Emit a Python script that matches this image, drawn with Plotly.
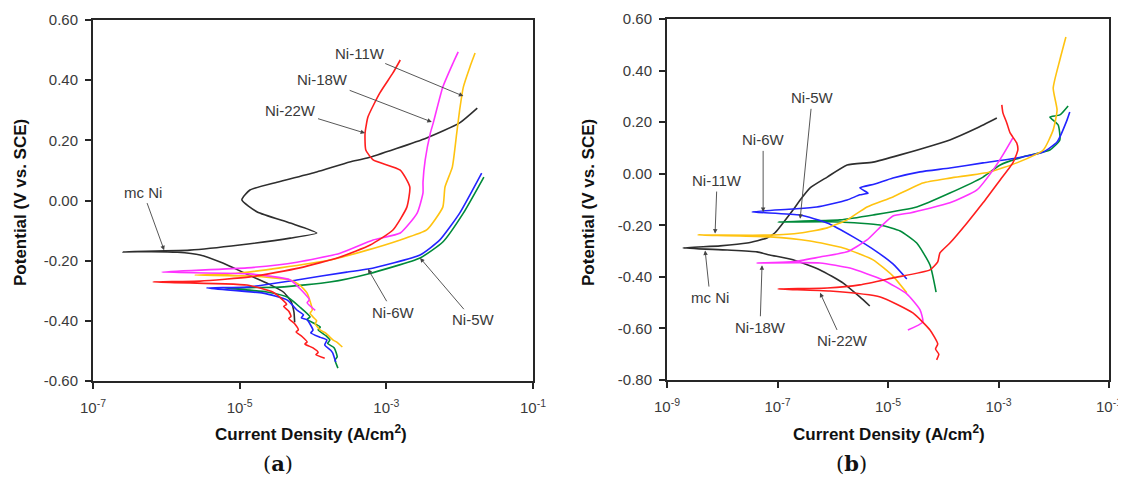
import numpy as np
import plotly.graph_objects as go

# ---------------- Panel (a) data : log10 current density (A/cm2), potential (V vs SCE)
# each curve: cathodic branch (from Ecorr outward) and anodic branch (from Ecorr outward)
A_MCNI_CATH_LOGI = [-6.59, -6.2, -5.85, -5.54, -5.23, -4.90, -4.60, -4.40, -4.30, -4.26, -4.25]
A_MCNI_CATH_E = [-0.171, -0.170, -0.172, -0.181, -0.208, -0.245, -0.278, -0.305, -0.335, -0.37, -0.405]
A_MCNI_AN_LOGI = [-6.59, -5.68, -5.0, -4.31, -3.95, -4.31, -4.76, -4.97, -4.86, -4.49, -3.95, -3.50, -3.26, -2.45, -2.0, -1.76]
A_MCNI_AN_E = [-0.171, -0.165, -0.148, -0.125, -0.108, -0.075, -0.038, 0.002, 0.035, 0.061, 0.095, 0.128, 0.141, 0.208, 0.258, 0.307]

A_22W_CATH_LOGI = [-6.18, -4.90, -4.55, -4.41, -4.36, -4.40, -4.33, -4.30, -4.33, -4.25, -4.20, -4.23, -4.15, -4.08, -4.11, -4.0, -3.93, -3.96, -3.84]
A_22W_CATH_E = [-0.271, -0.281, -0.304, -0.331, -0.345, -0.352, -0.368, -0.385, -0.392, -0.410, -0.430, -0.437, -0.452, -0.470, -0.477, -0.490, -0.505, -0.512, -0.524]
A_22W_AN_LOGI = [-6.18, -5.54, -4.86, -4.18, -3.63, -3.22, -2.91, -2.72, -2.68, -2.81, -3.18, -3.28, -3.29, -3.25, -3.09, -2.91, -2.81]
A_22W_AN_E = [-0.271, -0.268, -0.254, -0.224, -0.188, -0.148, -0.098, -0.022, 0.045, 0.101, 0.135, 0.168, 0.224, 0.278, 0.357, 0.424, 0.467]

A_18W_CATH_LOGI = [-6.06, -4.86, -4.31, -4.15, -4.05, -4.08, -3.97]
A_18W_CATH_E = [-0.238, -0.244, -0.264, -0.300, -0.330, -0.340, -0.365]
A_18W_AN_LOGI = [-6.06, -4.90, -4.22, -3.63, -3.18, -2.81, -2.58, -2.50, -2.50, -2.47, -2.40, -2.36, -2.23, -2.09, -2.02]
A_18W_AN_E = [-0.238, -0.224, -0.205, -0.175, -0.131, -0.108, -0.042, 0.025, 0.061, 0.135, 0.224, 0.258, 0.377, 0.457, 0.494]

A_11W_CATH_LOGI = [-5.61, -4.86, -4.31, -4.18, -4.08, -4.01, -4.04, -4.0, -3.95, -3.97, -3.90, -3.83, -3.77, -3.72, -3.68, -3.60]
A_11W_CATH_E = [-0.248, -0.251, -0.264, -0.281, -0.308, -0.364, -0.375, -0.387, -0.400, -0.410, -0.431, -0.440, -0.454, -0.465, -0.470, -0.487]
A_11W_AN_LOGI = [-5.61, -5.13, -4.45, -3.77, -3.26, -2.81, -2.45, -2.23, -2.20, -2.10, -2.04, -2.0, -1.95, -1.86, -1.79]
A_11W_AN_E = [-0.248, -0.244, -0.224, -0.198, -0.165, -0.131, -0.098, -0.022, 0.045, 0.111, 0.224, 0.301, 0.377, 0.444, 0.490]

A_6W_CATH_LOGI = [-5.45, -4.68, -4.35, -4.22, -4.13, -4.16, -4.08, -4.0, -4.03, -3.90, -3.81, -3.84, -3.75, -3.73, -3.69]
A_6W_CATH_E = [-0.291, -0.308, -0.331, -0.364, -0.380, -0.390, -0.397, -0.431, -0.440, -0.455, -0.464, -0.480, -0.500, -0.507, -0.537]
A_6W_AN_LOGI = [-5.45, -4.90, -4.22, -3.54, -3.25, -2.54, -2.27, -2.0, -1.70]
A_6W_AN_E = [-0.291, -0.288, -0.264, -0.238, -0.228, -0.181, -0.131, -0.042, 0.091]

A_5W_CATH_LOGI = [-5.2, -4.63, -4.35, -4.18, -4.04, -4.08, -3.97, -3.90, -3.93, -3.82, -3.77, -3.80, -3.71, -3.67, -3.70, -3.66]
A_5W_CATH_E = [-0.291, -0.304, -0.321, -0.354, -0.387, -0.395, -0.410, -0.421, -0.430, -0.450, -0.464, -0.475, -0.490, -0.520, -0.530, -0.557]
A_5W_AN_LOGI = [-5.2, -4.45, -3.77, -3.25, -2.54, -2.23, -1.95, -1.67]
A_5W_AN_E = [-0.291, -0.288, -0.271, -0.244, -0.191, -0.138, -0.042, 0.078]

# ---------------- Panel (b) data
B_MCNI_CATH_LOGI = [-8.71, -7.91, -7.37, -7.14, -6.72, -6.23, -5.81, -5.51, -5.33]
B_MCNI_CATH_E = [-0.288, -0.296, -0.303, -0.315, -0.334, -0.373, -0.424, -0.478, -0.513]
B_MCNI_AN_LOGI = [-8.71, -8.04, -7.55, -7.19, -7.05, -6.90, -6.72, -6.59, -6.41, -6.10, -5.74, -5.27, -4.78, -3.88, -3.39, -3.03]
B_MCNI_AN_E = [-0.288, -0.280, -0.269, -0.249, -0.230, -0.191, -0.141, -0.102, -0.055, -0.013, 0.034, 0.045, 0.073, 0.131, 0.177, 0.216]

B_11W_CATH_LOGI = [-8.44, -7.14, -6.41, -5.81, -5.27, -4.91, -4.66]
B_11W_CATH_E = [-0.238, -0.245, -0.261, -0.288, -0.334, -0.397, -0.462]
B_11W_AN_LOGI = [-8.44, -7.14, -6.59, -6.10, -5.74, -5.38, -4.91, -4.37, -3.88, -3.15, -2.67, -2.19, -2.01, -1.94, -2.01, -1.89, -1.78]
B_11W_AN_E = [-0.238, -0.238, -0.230, -0.210, -0.179, -0.129, -0.090, -0.036, -0.017, 0.007, 0.042, 0.092, 0.170, 0.247, 0.332, 0.441, 0.530]

B_6W_CATH_LOGI = [-7.46, -6.59, -6.10, -5.63, -5.20, -4.91, -4.66]
B_6W_CATH_E = [-0.148, -0.160, -0.191, -0.245, -0.303, -0.350, -0.408]
B_6W_AN_LOGI = [-7.46, -6.72, -6.29, -5.74, -5.51, -5.36, -5.51, -5.24, -4.91, -4.42, -3.88, -3.28, -2.67, -2.19, -1.94, -1.76, -1.71]
B_6W_AN_E = [-0.144, -0.137, -0.129, -0.102, -0.082, -0.075, -0.055, -0.040, -0.017, 0.007, 0.022, 0.042, 0.061, 0.084, 0.123, 0.208, 0.239]

B_5W_CATH_LOGI = [-6.99, -5.87, -5.14, -4.78, -4.48, -4.24, -4.13]
B_5W_CATH_E = [-0.187, -0.187, -0.199, -0.222, -0.269, -0.354, -0.459]
B_5W_AN_LOGI = [-6.99, -5.87, -5.27, -4.48, -3.88, -3.28, -2.97, -2.56, -2.07, -1.89, -1.92, -2.07, -1.89, -1.74]
B_5W_AN_E = [-0.187, -0.179, -0.160, -0.129, -0.075, -0.013, 0.034, 0.065, 0.092, 0.131, 0.189, 0.220, 0.228, 0.263]

B_18W_CATH_LOGI = [-7.37, -6.23, -5.69, -5.09, -4.66, -4.42, -4.37, -4.64]
B_18W_CATH_E = [-0.346, -0.346, -0.366, -0.412, -0.466, -0.528, -0.575, -0.606]
B_18W_AN_LOGI = [-7.37, -6.72, -6.23, -5.74, -5.38, -5.14, -4.91, -4.60, -3.88, -3.39, -3.10, -2.92, -2.74]
B_18W_AN_E = [-0.346, -0.342, -0.323, -0.303, -0.257, -0.207, -0.164, -0.152, -0.113, -0.063, 0.014, 0.073, 0.139]

B_22W_CATH_LOGI = [-6.99, -6.05, -5.14, -4.55, -4.24, -4.10, -4.14, -4.08, -4.12]
B_22W_CATH_E = [-0.447, -0.455, -0.478, -0.540, -0.606, -0.660, -0.680, -0.700, -0.722]
B_22W_AN_LOGI = [-6.99, -6.10, -5.51, -4.91, -4.24, -4.10, -4.06, -3.88, -3.57, -3.28, -2.97, -2.74, -2.65, -2.67, -2.79, -2.85, -2.92, -2.94]
B_22W_AN_E = [-0.447, -0.443, -0.431, -0.404, -0.373, -0.342, -0.307, -0.269, -0.191, -0.113, -0.024, 0.042, 0.092, 0.119, 0.158, 0.197, 0.236, 0.267]

X_TICKS_A = [-7, -5, -3, -1]
X_TICKS_B = [-9, -7, -5, -3, -1]
Y_TICKS_A = [-0.6, -0.4, -0.2, 0.0, 0.2, 0.4, 0.6]
Y_TICKS_B = [-0.8, -0.6, -0.4, -0.2, 0.0, 0.2, 0.4, 0.6]

COL = {
    "mc Ni": "#2e2e2e",
    "Ni-22W": "#ff1e1e",
    "Ni-18W": "#ff33ff",
    "Ni-11W": "#ffc310",
    "Ni-6W": "#2323ff",
    "Ni-5W": "#008a3a",
}


def curve(cl, ce, al, ae):
    lx = list(reversed(cl)) + list(al[1:])
    ly = list(reversed(ce)) + list(ae[1:])
    return 10 ** np.array(lx), np.array(ly)


fig = go.Figure()

panel_a = [
    ("mc Ni", A_MCNI_CATH_LOGI, A_MCNI_CATH_E, A_MCNI_AN_LOGI, A_MCNI_AN_E),
    ("Ni-5W", A_5W_CATH_LOGI, A_5W_CATH_E, A_5W_AN_LOGI, A_5W_AN_E),
    ("Ni-6W", A_6W_CATH_LOGI, A_6W_CATH_E, A_6W_AN_LOGI, A_6W_AN_E),
    ("Ni-11W", A_11W_CATH_LOGI, A_11W_CATH_E, A_11W_AN_LOGI, A_11W_AN_E),
    ("Ni-18W", A_18W_CATH_LOGI, A_18W_CATH_E, A_18W_AN_LOGI, A_18W_AN_E),
    ("Ni-22W", A_22W_CATH_LOGI, A_22W_CATH_E, A_22W_AN_LOGI, A_22W_AN_E),
]
panel_b = [
    ("mc Ni", B_MCNI_CATH_LOGI, B_MCNI_CATH_E, B_MCNI_AN_LOGI, B_MCNI_AN_E),
    ("Ni-5W", B_5W_CATH_LOGI, B_5W_CATH_E, B_5W_AN_LOGI, B_5W_AN_E),
    ("Ni-6W", B_6W_CATH_LOGI, B_6W_CATH_E, B_6W_AN_LOGI, B_6W_AN_E),
    ("Ni-11W", B_11W_CATH_LOGI, B_11W_CATH_E, B_11W_AN_LOGI, B_11W_AN_E),
    ("Ni-18W", B_18W_CATH_LOGI, B_18W_CATH_E, B_18W_AN_LOGI, B_18W_AN_E),
    ("Ni-22W", B_22W_CATH_LOGI, B_22W_CATH_E, B_22W_AN_LOGI, B_22W_AN_E),
]

for panel, xr, yr in ((panel_a, "x", "y"), (panel_b, "x2", "y2")):
    for name, cl, ce, al, ae in panel:
        xs, ys = curve(cl, ce, al, ae)
        fig.add_trace(go.Scatter(
            x=xs, y=ys, mode="lines", name=name, xaxis=xr, yaxis=yr,
            line=dict(color=COL[name], width=1.6, shape="spline", smoothing=0.5),
            showlegend=False, hoverinfo="skip"))

FONT = "Liberation Sans, Arial, sans-serif"
ax_common = dict(
    showline=True, linecolor="#262626", linewidth=2, mirror=True,
    ticks="outside", ticklen=6, tickwidth=2, tickcolor="#262626",
    showgrid=False, zeroline=False, automargin=False,
    tickfont=dict(family=FONT, size=15, color="#3a3a3a"),
)


def xt(vals):
    return dict(tickmode="array", tickvals=[10.0 ** v for v in vals],
                ticktext=["10<sup>%d</sup>" % v for v in vals])


def yt(vals):
    return dict(tickmode="array", tickvals=vals, ticktext=["%.2f" % v for v in vals])


# The page body has an 8px default margin, so the figure is 8px smaller on each axis
W, H, OFF = 1118, 476, 8


def px(p):
    return (p - OFF) / W


def py(p):
    return 1 - (p - OFF) / H


fig.update_layout(
    width=W, height=H, margin=dict(l=0, r=0, t=0, b=0, autoexpand=False),
    paper_bgcolor="white", plot_bgcolor="white",
    xaxis=dict(domain=[px(93), px(533)], type="log", range=[-7, -1], anchor="y",
               ticklabelstandoff=6, **xt(X_TICKS_A), **ax_common),
    yaxis=dict(domain=[py(381), py(20)], range=[-0.6, 0.6], anchor="x",
               ticklabelstandoff=4, **yt(Y_TICKS_A), **ax_common),
    xaxis2=dict(domain=[px(667), px(1109)], type="log", range=[-9, -1], anchor="y2",
                ticklabelstandoff=6, **xt(X_TICKS_B), **ax_common),
    yaxis2=dict(domain=[py(380), py(19)], range=[-0.8, 0.6], anchor="x2",
                ticklabelstandoff=4, **yt(Y_TICKS_B), **ax_common),
)

LBL_FONT = dict(family=FONT, size=15, color="#3a3a3a")
# (text, xref, yref, tip_logx, tip_y, ax, ay)
labels = [
    ("mc Ni", "x", "y", -6.03, -0.165, -21, -58),
    ("Ni-22W", "x", "y", -3.29, 0.224, -75, -23),
    ("Ni-18W", "x", "y", -2.38, 0.261, -109, -42),
    ("Ni-11W", "x", "y", -1.95, 0.347, -103, -43),
    ("Ni-6W", "x", "y", -3.25, -0.228, 25, 43),
    ("Ni-5W", "x", "y", -2.54, -0.191, 53, 62),
    ("Ni-5W", "x2", "y2", -6.59, -0.175, 12, -121),
    ("Ni-6W", "x2", "y2", -7.26, -0.148, 0, -72),
    ("Ni-11W", "x2", "y2", -8.13, -0.232, 2, -53),
    ("mc Ni", "x2", "y2", -8.31, -0.298, 5, 47),
    ("Ni-18W", "x2", "y2", -7.28, -0.355, -2, 62),
    ("Ni-22W", "x2", "y2", -6.23, -0.462, 22, 48),
]
for t, xr, yr, lx, ly, axp, ayp in labels:
    fig.add_annotation(text=t, x=lx, y=ly, xref=xr, yref=yr, ax=axp, ay=ayp,
                       showarrow=True, arrowhead=2, arrowsize=1.0, arrowwidth=0.9,
                       arrowcolor="#444444", font=LBL_FONT, standoff=0, startstandoff=1)

TITLE_FONT = dict(family=FONT, size=17, color="#111111")
for xc in (311.5, 889):
    fig.add_annotation(text="<b>Current Density (A/cm<sup>2</sup>)</b>", xref="paper", yref="paper",
                       x=px(xc), y=py(433), xanchor="center", yanchor="middle",
                       showarrow=False, font=TITLE_FONT)
for xc in (20, 588):
    fig.add_annotation(text="<b>Potential (V vs. SCE)</b>", xref="paper", yref="paper",
                       x=px(xc), y=py(203), xanchor="center", yanchor="middle",
                       textangle=-90, showarrow=False, font=TITLE_FONT)
for t, xc in (("(<b>a</b>)", 278), ("(<b>b</b>)", 851)):
    fig.add_annotation(text=t, xref="paper", yref="paper", x=px(xc), y=py(463),
                       xanchor="center", yanchor="middle", showarrow=False,
                       font=dict(family="DejaVu Serif, Liberation Serif, serif", size=21, color="#111111"))

fig.write_html("out.html")
